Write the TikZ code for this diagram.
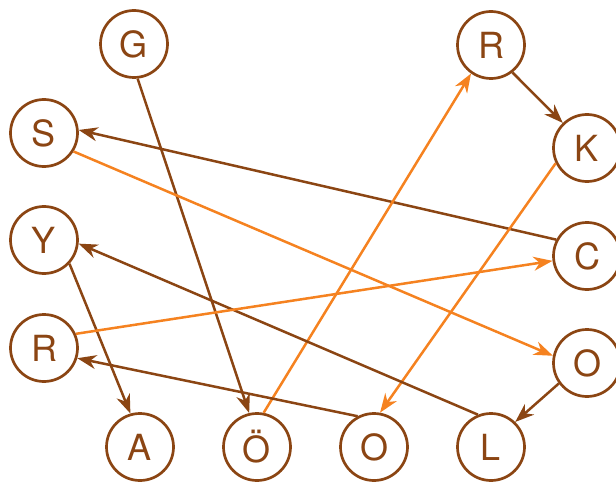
\documentclass[tikz,border=0pt]{standalone}
\usepackage{fontspec}
\setmainfont{TeX Gyre Heros}
\usetikzlibrary{arrows.meta}
\definecolor{nodebrown}{RGB}{139,69,19}
\definecolor{edgeorange}{RGB}{245,130,32}
\begin{document}
\begin{tikzpicture}[x=1pt,y=1pt,
  letter/.style={circle, draw=nodebrown, line width=2.7pt, minimum size=67pt,
    inner sep=0pt, text=nodebrown, font=\fontsize{36}{36}\selectfont},
  link/.style={line width=2.5pt, -{Stealth[length=19pt,width=14pt,inset=6pt]}},
  brownlink/.style={link, draw=nodebrown},
  orangelink/.style={link, draw=edgeorange}]
\useasboundingbox (0,0) rectangle (616,483);

% top row
\node[letter] (g)  at (134,439) {G};
\node[letter] (rt) at (491,438) {R};
% left column
\node[letter] (s)  at (44,350) {S};
\node[letter] (y)  at (44,243) {Y};
\node[letter] (rl) at (44,135) {R};
% right column
\node[letter] (k)  at (587,335) {K};
\node[letter] (c)  at (587,227) {C};
\node[letter] (or) at (587,120) {O};
% bottom row
\node[letter] (a)  at (140,36) {A};
\node[letter] (oe) at (257,36) {Ö};
\node[letter] (ob) at (374,36) {O};
\node[letter] (l)  at (491,36) {L};

% connectors
\draw[brownlink]  (g.-84)  -- (oe.103);
\draw[brownlink]  (c.152)  -- (s.5);
\draw[orangelink] (s.-32)  -- (or.168);
\draw[orangelink] (oe.79)  -- (rt.235);
\draw[brownlink]  (rt.-52) -- (k.134);
\draw[orangelink] (k.206)  -- (ob.80);
\draw[brownlink]  (y.-43)  -- (a.106);
\draw[brownlink]  (l.112)  -- (y.-6);
\draw[orangelink] (rl.24)  -- (c.188);
\draw[brownlink]  (ob.118) -- (rl.-17);
\draw[brownlink]  (or.216) -- (l.46);
\end{tikzpicture}
\end{document}
